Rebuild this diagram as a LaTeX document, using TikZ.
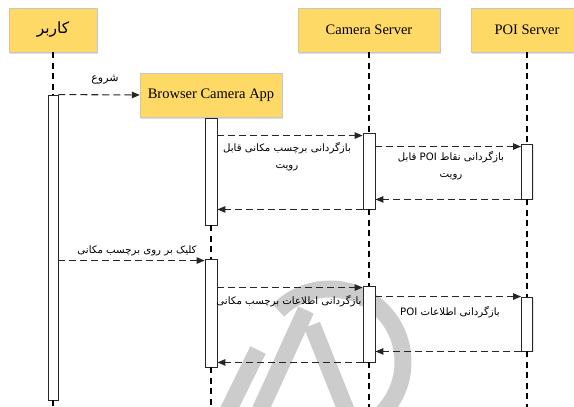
\documentclass[tikz,border=0pt]{standalone}
\usepackage{fontspec}
\setmainfont{Liberation Serif}
\newfontfamily\fa[Script=Arabic]{DejaVu Sans}
\TeXXeTstate=1
\usetikzlibrary{arrows.meta,shadows,calc}

\definecolor{boxyellow}{RGB}{255,217,102}
\definecolor{markgray}{RGB}{204,204,204}

\tikzset{
  actor/.style={draw=black!22, fill=boxyellow, minimum height=44pt, inner sep=0pt,
    drop shadow={shadow xshift=1.2pt, shadow yshift=-1.5pt, opacity=0.25},
    font=\fontsize{14.5}{17}\selectfont},
  bar/.style={draw=black!85, fill=white, line width=0.9pt, inner sep=0pt,
    drop shadow={shadow xshift=1pt, shadow yshift=-1pt, opacity=0.2}},
  life/.style={draw=black, line width=1.1pt, dash pattern=on 6pt off 4.5pt},
  msg/.style={draw=black!85, line width=1.1pt, dash pattern=on 7pt off 4pt,
    -{Triangle[length=8pt,width=6.5pt]}},
  lbl/.style={font=\fa\fontsize{10.2}{17}\selectfont, inner sep=0pt, align=center},
}

\begin{document}
\begin{tikzpicture}[x=1pt,y=-1pt]
\useasboundingbox (0,0) rectangle (574,407);
\clip (0,0) rectangle (574,407);

% faint background mark: an open ring with slanted strokes
\begin{scope}[markgray, line width=17pt]
  \draw (330,362) ++(225:73) arc[start angle=225, end angle=460, radius=73];
  \draw (306,310) -- (258,415);
  \draw (258,350) -- (226,415);
  \draw (312,325) -- (348,415);
\end{scope}

% participants
\node[actor, minimum width=88pt, font=\fa\fontsize{15.5}{18}\selectfont] (user) at (53,30) {\beginR کاربر\endR};
\node[actor, minimum width=142pt] (browser) at (211,95) {Browser Camera App};
\node[actor, minimum width=142pt] (camera) at (369,30) {Camera Server};
\node[actor, minimum width=112pt] (poi) at (527,30) {POI Server};

% activation bars
\node[bar, minimum width=10pt, minimum height=305pt] (ubar) at (53,247.5) {};
\node[bar, minimum width=12pt, minimum height=107pt] (bbar1) at (211,171.5) {};
\node[bar, minimum width=12pt, minimum height=76pt] (cbar1) at (369,171) {};
\node[bar, minimum width=11pt, minimum height=55pt] (pbar1) at (527,171.5) {};
\node[bar, minimum width=12pt, minimum height=108pt] (bbar2) at (211,313) {};
\node[bar, minimum width=12pt, minimum height=76pt] (cbar2) at (369,324) {};
\node[bar, minimum width=11pt, minimum height=54pt] (pbar2) at (527,324) {};

\coordinate (uend) at (53,407);
\coordinate (bend) at (211,407);
\coordinate (cend) at (369,407);
\coordinate (pend) at (527,407);

% lifelines
\draw[life] (user.south) -- (ubar.north);
\draw[life] (ubar.south) -- (uend);
\draw[life] (bbar1.south) -- (bbar2.north);
\draw[life] (bbar2.south) -- (bend);
\draw[life] (camera.south) -- (cbar1.north);
\draw[life] (cbar1.south) -- (cbar2.north);
\draw[life] (cbar2.south) -- (cend);
\draw[life] (poi.south) -- (pbar1.north);
\draw[life] (pbar1.south) -- (pbar2.north);
\draw[life] (pbar2.south) -- (pend);

% messages
\draw[msg] (ubar.north east) -- (browser.west);
\coordinate (m2) at ([yshift=-3pt]cbar1.north west);
\draw[msg] (bbar1.east |- m2) -- (m2);
\draw[msg] (cbar1.south west) -- (bbar1.east |- cbar1.south west);
\coordinate (m3) at ([yshift=-3pt]pbar1.north west);
\draw[msg] (cbar1.east |- m3) -- (m3);
\draw[msg] (pbar1.south west) -- (cbar1.east |- pbar1.south west);
\coordinate (m4) at ([yshift=-2pt]bbar2.north west);
\draw[msg] (ubar.east |- m4) -- (m4);
\coordinate (m5) at ([yshift=-2pt]cbar2.north west);
\draw[msg] (bbar2.east |- m5) -- (m5);
\draw[msg] (cbar2.east |- pbar2.north west) -- (pbar2.north west);
\draw[msg] (pbar2.south west) -- (cbar2.east |- pbar2.south west);
\draw[msg] (cbar2.south west) -- (bbar2.east |- cbar2.south west);

% message labels
\node[lbl, font=\fa\fontsize{11}{13}\selectfont] (t1) at (105,80) {\beginR شروع\endR};
\node[lbl] (t2) at (287,157) {\beginR بازگردانی برچسب مکانی قابل\endR\\\beginR رویت\endR};
\node[lbl] (t3) at (451,166) {\beginR بازگردانی نقاط \beginL POI\endL{} قابل\endR\\\beginR رویت\endR};
\node[lbl] (t4) at (137,251) {\beginR کلیک بر روی برچسب مکانی\endR};
\node[lbl] (t5) at (289,301) {\beginR بازگردانی اطلاعات برچسب مکانی\endR};
\node[lbl] (t6) at (450,312) {\beginR بازگردانی اطلاعات \beginL POI\endL\endR};
\end{tikzpicture}
\end{document}
